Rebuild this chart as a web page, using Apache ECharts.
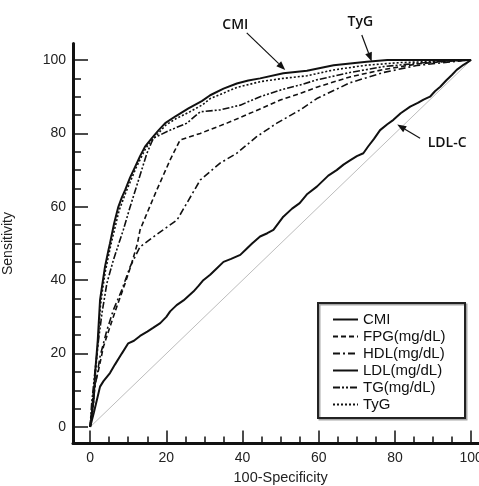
<!DOCTYPE html>
<html><head><meta charset="utf-8">
<script src="https://cdn.jsdelivr.net/npm/echarts@6/dist/echarts.min.js"></script>
<style>html,body{margin:0;padding:0;background:#fff}#c{width:479px;height:486px}</style>
</head><body><div id="c"></div>
<script>
const seriesNames = ['CMI','FPG(mg/dL)','HDL(mg/dL)','LDL(mg/dL)','TG(mg/dL)','TyG'];
const majorTicks = [0,20,40,60,80,100];
const minorTicks = [0,5,10,15,20,25,30,35,40,45,50,55,60,65,70,75,80,85,90,95,100];
const refX = [0,100];
const refY = [0,100];
const cmiX = [0,0.9,1.3,2,2.6,3.1,3.9,4.8,5.2,6.3,7.4,8.3,9.2,10.5,11.8,13.1,14.4,16.2,18,19.7,22.3,25.8,29.3,31.5,35,38.5,41.5,44.6,50.7,56.9,63.9,72.6,78,100];
const cmiY = [0,7.4,14.7,23.7,34.6,38.2,43.7,48.2,50,55.5,60,62.5,64.6,68,70.9,73.8,76.4,78.7,80.9,82.8,84.6,86.8,88.8,90.4,92.2,93.6,94.4,95,96.4,97.1,98.6,99.5,100,100];
const fpgX = [0,0.9,2.2,3.5,5.2,7,9.2,10.9,12.4,13.1,14.9,17.5,21,23.6,28.9,35.9,42.9,49.9,55.1,59.5,68.2,77,85.7,93,100];
const fpgY = [0,10,15.5,21.9,27.3,32.8,39.2,44.6,50,53.7,58.2,64.6,72.8,78.2,80,82.8,85.9,89.1,90.9,92.6,95.4,97.4,98.9,99.6,100];
const hdlX = [0,1.3,2.6,4.4,6.1,8.3,10.5,13.1,17.5,22.8,28.9,34.1,38.5,43.7,49,55.1,59.5,68.2,77,85.7,94.5,100];
const hdlY = [0,11,19.2,26.4,31.9,37.3,43.7,49.1,52.5,56.4,67.3,71.9,74.6,79.1,82.8,86.4,89.5,93.8,96.6,98.5,99.5,100];
const ldlX = [0,1,2.6,3.5,5.2,6.5,8.3,10,11.5,13.1,15,16.5,18.4,20,21,22.7,24.5,27.1,28.5,29.7,31.5,33,35,37,39.4,41,42.5,44.6,46.5,48.1,50.7,53,55,57,59.5,61,62.5,64.7,66.5,68,70,71.7,73,74.5,76.1,78,79.6,81.5,84,86,87.5,89.2,90.5,91.9,93.5,95,96.2,98,100];
const ldlY = [0,4,11,12.5,14.7,17,20,22.8,23.5,24.8,26,27,28.3,30,31.5,33.2,34.5,36.9,38.5,40,41.5,43,45,45.8,46.9,48.5,50,51.9,52.8,53.7,57.3,59.5,61,63.5,65.5,67,68.5,70,71.5,72.5,73.8,74.6,76.5,78.5,80.9,82.5,83.7,85.5,87.3,88.3,89.2,90,91.5,92.7,94.5,96,97.3,98.7,100];
const tgX = [0,0.4,1.3,2.2,3.1,4.4,6.1,8.7,10.5,12.7,14.9,16.6,21,25.4,28.9,34.1,39.4,44.6,49.9,55.1,59.5,68.2,77,85.7,94.5,100];
const tgY = [0,6.4,15.5,23.7,31,39.2,45.5,53.7,60,67.3,74.6,78.7,80.9,82.8,85.9,86.4,87.7,90,91.8,93.2,94.6,96.6,98.2,99.1,99.8,100];
const tygX = [0,0.9,1.3,2,2.7,3.2,4,5,5.4,7.6,9.4,12,14.6,16.4,19.9,22.5,26,29.5,31.5,38.5,44.6,50.7,56.9,63.9,72.6,81.4,90,97,100];
const tygY = [0,6.5,13.5,22,33,37,42.5,47.5,49.5,59,64,70.5,76,78.3,82.3,84,85.8,87.8,89.5,92.5,94.1,95,95.7,97.3,98.6,99.3,99.6,100,100];

const pairs = (xs, ys) => xs.map((x, i) => [x, ys[i]]);
const styles = [
  {width:2, type:'solid'},
  {width:1.6, type:[5,3]},
  {width:1.6, type:[7,3,2,3]},
  {width:2, type:'solid'},
  {width:1.6, type:[7,2,2,2,2,2]},
  {width:1.6, type:[2,2]}
];
const datasets = [pairs(cmiX,cmiY), pairs(fpgX,fpgY), pairs(hdlX,hdlY), pairs(ldlX,ldlY), pairs(tgX,tgY), pairs(tygX,tygY)];

const chart = echarts.init(document.getElementById('c'), null, {renderer:'canvas'});
const FONT = 'Liberation Sans, Arial, sans-serif';
const series = [{
  type:'line', name:'ref', data: pairs(refX, refY), showSymbol:false, silent:true,
  lineStyle:{color:'#bdbdbd', width:1}, z:1
}];
seriesNames.forEach((n, i) => {
  series.push({
    type:'line', name:n, data: datasets[i], showSymbol:false, symbol:'none',
    lineStyle:{color:'#111', width:styles[i].width, type:styles[i].type},
    itemStyle:{color:'#111'}, z:2
  });
});

chart.setOption({
  animation:false,
  backgroundColor:'#fff',
  grid:{left:73, top:43.5, width:415.3, height:400, outerBoundsMode:'none', containLabel:false},
  legend:{
    data: seriesNames, orient:'vertical', left:327, top:307,
    itemWidth:25, itemHeight:12, itemGap:2,
    itemStyle:{opacity:0},
    textStyle:{fontFamily:FONT, fontSize:15, color:'#111'}
  },
  xAxis:[{
    type:'value', min:-4.5, max:104.5,
    name:'100-Specificity', nameLocation:'middle', nameGap:27,
    nameTextStyle:{fontFamily:FONT, fontSize:14.5, color:'#222'},
    axisLine:{show:true, onZero:false, lineStyle:{color:'#111', width:3}},
    axisTick:{show:true, inside:true, length:13, customValues:majorTicks, lineStyle:{color:'#111', width:1.5}},
    axisLabel:{customValues:majorTicks, fontFamily:FONT, fontSize:14, color:'#222', margin:8},
    splitLine:{show:false}
  },{
    type:'value', min:-4.5, max:104.5, position:'bottom',
    axisLine:{show:false, onZero:false},
    axisTick:{show:true, inside:true, length:7, customValues:minorTicks, lineStyle:{color:'#111', width:1.5}},
    axisLabel:{show:false}, splitLine:{show:false}
  }],
  yAxis:[{
    type:'value', min:-4.5, max:104.5,
    name:'Sensitivity', nameLocation:'middle', nameGap:58, nameRotate:90,
    nameTextStyle:{fontFamily:FONT, fontSize:14, color:'#222'},
    axisLine:{show:true, onZero:false, lineStyle:{color:'#111', width:3}},
    axisTick:{show:true, inside:true, length:15, customValues:majorTicks, lineStyle:{color:'#111', width:1.5}},
    axisLabel:{customValues:majorTicks, fontFamily:FONT, fontSize:14, color:'#222', margin:7},
    splitLine:{show:false}
  },{
    type:'value', min:-4.5, max:104.5, position:'left',
    axisLine:{show:false, onZero:false},
    axisTick:{show:true, inside:true, length:8, customValues:minorTicks, lineStyle:{color:'#111', width:1.5}},
    axisLabel:{show:false}, splitLine:{show:false}
  }],
  series: series
});

// annotations (data coords)
const annots = [
  {text:'CMI', at:[38.1,109.5], align:'center', weight:600, tail:[41.1,107.4], tip:[51.2,97.3]},
  {text:'TyG', at:[70.9,110.4], align:'center', weight:600, tail:[71.3,106.8], tip:[73.9,99.6]},
  {text:'LDL-C', at:[88.6,77.3], align:'left', weight:600, tail:[86.6,78.7], tip:[80.6,82.4]}
];
const g = [];
g.push({type:'rect', shape:{x:318, y:303, width:147, height:115},
  style:{fill:'none', stroke:'#222', lineWidth:2, shadowColor:'rgba(0,0,0,0.35)', shadowOffsetX:1.5, shadowOffsetY:1.5}, z:5});
annots.forEach(a => {
  const p = chart.convertToPixel({gridIndex:0}, a.at);
  const t = chart.convertToPixel({gridIndex:0}, a.tail);
  const h = chart.convertToPixel({gridIndex:0}, a.tip);
  g.push({type:'text', x:p[0], y:p[1], style:{text:a.text, fill:'#111', font:a.weight + ' 14px "Open Sans", sans-serif', align:a.align, verticalAlign:'middle'}, z:10});
  const dx = h[0]-t[0], dy = h[1]-t[1], L = Math.hypot(dx, dy);
  const ux = dx/L, uy = dy/L, hl = 9, hw = 3.5;
  const bx = h[0]-ux*hl, by = h[1]-uy*hl;
  g.push({type:'line', shape:{x1:t[0], y1:t[1], x2:bx, y2:by}, style:{stroke:'#111', lineWidth:1.2}, z:10});
  g.push({type:'polygon', shape:{points:[[h[0],h[1]],[bx-uy*hw, by+ux*hw],[bx+uy*hw, by-ux*hw]]}, style:{fill:'#111'}, z:10});
});
chart.setOption({graphic:g});
</script></body></html>
